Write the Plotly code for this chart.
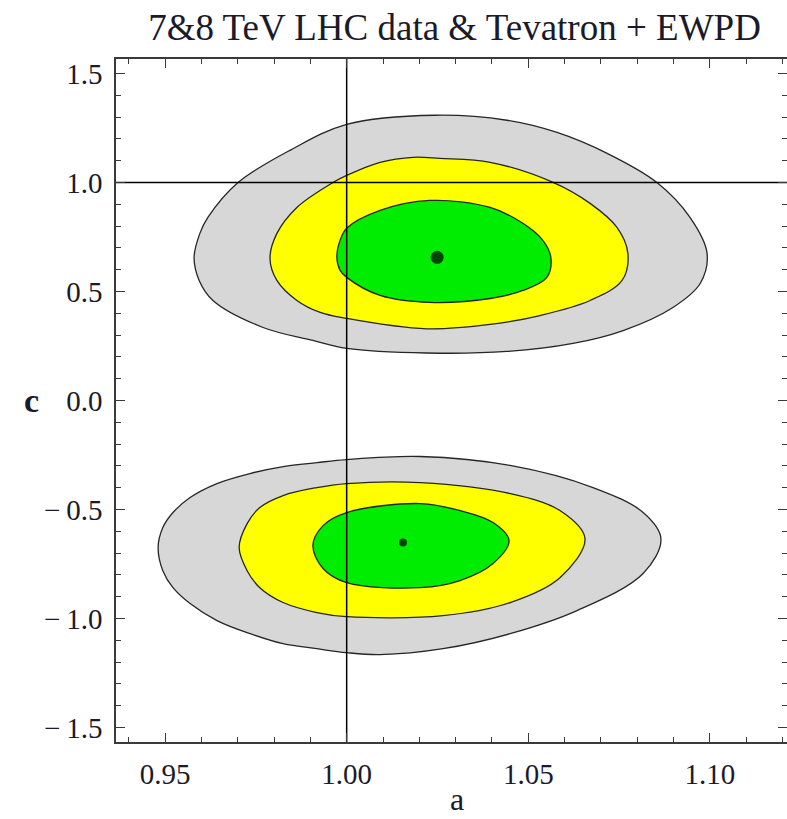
import plotly.graph_objects as go

# ---- data ----
# upper region (c > 0)
up_gray_a = [0.9580, 0.9596, 0.9618, 0.9701, 0.9844, 1.0000, 1.0243, 1.0441, 1.0579, 1.0717, 1.0854, 1.0945, 1.0992,
             1.0973, 1.0898, 1.0761, 1.0623, 1.0441, 1.0220, 1.0000, 0.9907, 0.9770, 0.9632, 0.9594]
up_gray_c = [0.657, 0.767, 0.840, 1.000, 1.148, 1.267, 1.309, 1.286, 1.230, 1.134, 1.000, 0.840, 0.675,
             0.537, 0.427, 0.321, 0.262, 0.225, 0.218, 0.239, 0.2755, 0.335, 0.459, 0.551]

up_yel_a = [0.9789, 0.9808, 0.9863, 0.9962, 1.0000, 1.0092, 1.0183, 1.0257, 1.0395, 1.0568, 1.0670, 1.0744, 1.0774,
            1.0758, 1.0670, 1.0532, 1.0395, 1.0220, 1.0000, 0.9927, 0.9863, 0.9808]
up_yel_c = [0.652, 0.767, 0.886, 1.000, 1.033, 1.093, 1.116, 1.111, 1.093, 1.001, 0.9045, 0.794, 0.675,
            0.551, 0.459, 0.390, 0.349, 0.329, 0.3765, 0.404, 0.459, 0.551]

up_grn_a = [0.9973, 0.9982, 1.0000, 1.0092, 1.0229, 1.0395, 1.0485, 1.0540, 1.0562,
            1.0551, 1.0485, 1.0395, 1.0229, 1.0092, 1.0000, 0.9982]
up_grn_c = [0.657, 0.735, 0.790, 0.872, 0.918, 0.886, 0.813, 0.735, 0.657,
            0.565, 0.505, 0.468, 0.450, 0.482, 0.565, 0.597]

# lower region (c < 0)
lo_gray_a = [0.9481, 0.9494, 0.9522, 0.9569, 0.9643, 0.9734, 0.9825, 0.9918, 1.0000, 1.0202, 1.0450, 1.0678, 1.0816, 1.0865,
             1.0816, 1.0634, 1.0450, 1.0265, 1.0092, 1.0000, 0.9918, 0.9825, 0.9734, 0.9643, 0.9569, 0.9522, 0.9494]
lo_gray_c = [-0.675, -0.583, -0.514, -0.445, -0.381, -0.335, -0.303, -0.285, -0.271, -0.257, -0.298, -0.3995, -0.514, -0.634,
             -0.794, -0.964, -1.070, -1.139, -1.166, -1.157, -1.139, -1.116, -1.070, -1.010, -0.932, -0.859, -0.781]

lo_yel_a = [0.9704, 0.9726, 0.9761, 0.9825, 0.9918, 1.0000, 1.0202, 1.0450, 1.0587, 1.0656,
            1.0587, 1.0450, 1.0265, 1.0000, 0.9918, 0.9825, 0.9761, 0.9726]
lo_yel_c = [-0.675, -0.565, -0.491, -0.436, -0.3995, -0.381, -0.3765, -0.427, -0.505, -0.634,
            -0.813, -0.927, -0.987, -0.992, -0.973, -0.927, -0.859, -0.781]

lo_grn_a = [0.9907, 0.9935, 1.0000, 1.0202, 1.0312, 1.0403, 1.0447,
            1.0403, 1.0312, 1.0202, 1.0000, 0.9935]
lo_grn_c = [-0.666, -0.574, -0.514, -0.473, -0.505, -0.560, -0.643,
            -0.748, -0.826, -0.859, -0.836, -0.771]

best_a = [1.0249, 1.0155]
best_c = [0.657, -0.652]
best_size = [13, 8]

sm_a = 1.0   # SM reference lines
sm_c = 1.0

x_range = [0.93651, 1.1212]
y_range = [-1.567, 1.567]
x_tickvals = [0.95, 1.00, 1.05, 1.10]
x_ticktext = ["0.95", "1.00", "1.05", "1.10"]
y_tickvals = [-1.5, -1.0, -0.5, 0.0, 0.5, 1.0, 1.5]
y_ticktext = ["\u2212\u20091.5", "\u2212\u20091.0", "\u2212\u20090.5", "0.0", "0.5", "1.0", "1.5"]

title_text = "7&8 TeV LHC data & Tevatron + EWPD"
x_label = "a"
y_label = "c"

GRAY = "#d7d7d7"
YELLOW = "#ffff00"
GREEN = "#00ec00"
EDGE = "#262626"
SERIF = "Liberation Serif"
TXT = "#1a1a2a"

fig = go.Figure()


def region(a, c, color):
    fig.add_trace(go.Scatter(
        x=a + [a[0]], y=c + [c[0]], mode="lines", fill="toself", fillcolor=color,
        line=dict(color=EDGE, width=1.3, shape="spline", smoothing=1.0),
        hoverinfo="skip", showlegend=False))


region(up_gray_a, up_gray_c, GRAY)
region(up_yel_a, up_yel_c, YELLOW)
region(up_grn_a, up_grn_c, GREEN)
region(lo_gray_a, lo_gray_c, GRAY)
region(lo_yel_a, lo_yel_c, YELLOW)
region(lo_grn_a, lo_grn_c, GREEN)

# reference lines
fig.add_trace(go.Scatter(x=[sm_a, sm_a], y=y_range, mode="lines",
                         line=dict(color="black", width=1.5), showlegend=False, hoverinfo="skip"))
fig.add_trace(go.Scatter(x=x_range, y=[sm_c, sm_c], mode="lines",
                         line=dict(color="black", width=1.5), showlegend=False, hoverinfo="skip"))

# best-fit points
fig.add_trace(go.Scatter(x=best_a, y=best_c, mode="markers",
                         marker=dict(color="black", size=best_size, line=dict(width=0)),
                         showlegend=False, hoverinfo="skip"))

axis_common = dict(
    showgrid=False, zeroline=False, showline=True, linecolor="#3a3a3a", linewidth=1.5,
    mirror="ticks", ticks="inside", tickcolor="#3a3a3a", tickwidth=1.2, ticklen=9,
    tickfont=dict(family=SERIF, size=29, color=TXT), automargin=False,
)

fig.update_xaxes(range=x_range, tickvals=x_tickvals, ticktext=x_ticktext,
                 minor=dict(dtick=0.01, tick0=0.95, ticks="inside", ticklen=5, tickwidth=1.1, tickcolor="#3a3a3a"),
                 ticklabelstandoff=5, **axis_common)
fig.update_yaxes(range=y_range, tickvals=y_tickvals, ticktext=y_ticktext,
                 minor=dict(dtick=0.1, tick0=0.0, ticks="inside", ticklen=5, tickwidth=1.1, tickcolor="#3a3a3a"),
                 ticklabelstandoff=6, **axis_common)

fig.update_layout(
    width=787, height=819,
    margin=dict(l=116, r=0, t=59, b=77, pad=0),
    paper_bgcolor="white", plot_bgcolor="white",
    title=dict(text=title_text, x=(152 + 757) / 2 / 787, xanchor="center", xref="container",
               y=1 - 27 / 819, yanchor="middle", yref="container",
               font=dict(family=SERIF, size=37, color=TXT)),
    annotations=[
        dict(text=x_label, xref="paper", yref="paper", x=(457 - 116) / 671, y=-(799 - 741.7) / 682.7,
             xanchor="center", yanchor="middle", showarrow=False,
             font=dict(family=SERIF, size=32, color=TXT)),
        dict(text="<b>" + y_label + "</b>", xref="paper", yref="paper", x=-(116 - 31) / 671, y=0.5,
             xanchor="center", yanchor="middle", showarrow=False,
             font=dict(family=SERIF, size=34, color=TXT)),
    ],
)

fig.write_html("out.html", config={"displayModeBar": False},
               post_script="document.body.style.margin='0px';document.body.style.overflow='hidden';")
